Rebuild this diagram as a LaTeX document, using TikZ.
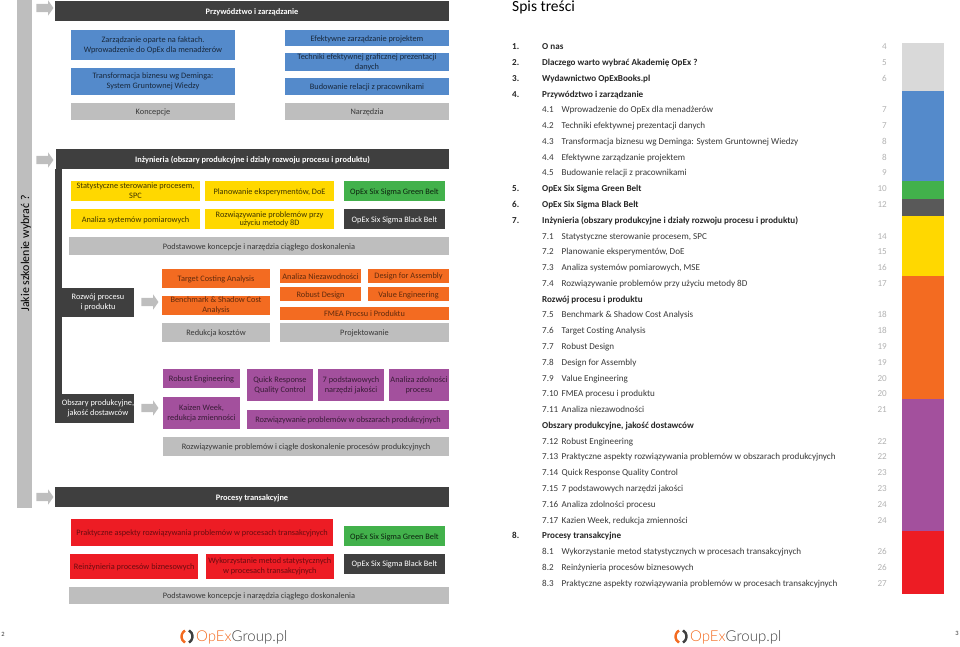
\documentclass[tikz,border=0pt]{standalone}
\usepackage{fontspec}
\setmainfont{Carlito}
\newfontfamily\logofont[UprightFont=* Light]{Lato}
\usetikzlibrary{shapes.arrows}
\definecolor{darkbox}{HTML}{3F3F3F}
\definecolor{greybox}{HTML}{BEBEBE}
\definecolor{bluebox}{HTML}{548ACB}
\definecolor{yellowbox}{HTML}{FFD800}
\definecolor{greenbox}{HTML}{42B14B}
\definecolor{orangebox}{HTML}{F36B21}
\definecolor{purplebox}{HTML}{A3509D}
\definecolor{redbox}{HTML}{ED1C24}
\definecolor{maintext}{HTML}{383838}
\tikzset{
    cell/.style={rectangle, inner sep=0pt, align=center, text=maintext, font=\fontsize{8.3}{10}\selectfont,
        execute at begin node={\rule{0pt}{8pt}}},
    header/.style={cell, fill=darkbox, text=white, font=\fontsize{8.35}{10}\selectfont\bfseries},
    side/.style={cell, fill=darkbox, text=white},
    blackbelt/.style={cell, fill=darkbox, text=white},
    greenbelt/.style={cell, fill=greenbox, text=black!80!greenbox},
    grey/.style={cell, fill=greybox},
    blue/.style={cell, fill=bluebox, text=black!70!bluebox},
    yellow/.style={cell, fill=yellowbox, text=black!75!yellowbox},
    orange/.style={cell, fill=orangebox, text=black!60!orangebox},
    purple/.style={cell, fill=purplebox, text=black!65!purplebox},
    red/.style={cell, fill=redbox, text=black!55!redbox},
    pointer/.style={single arrow, fill=greybox, inner sep=4pt, minimum height=17pt, minimum width=15pt,
        single arrow head extend=3.5pt, single arrow tip angle=110},
    tochead/.style={anchor=west, inner sep=0pt, text height=6pt, text depth=2pt, text=black!85, font=\fontsize{9.1}{10}\selectfont\bfseries},
    tocitem/.style={anchor=west, inner sep=0pt, text height=6pt, text depth=2pt, text=maintext, font=\fontsize{9.1}{10}\selectfont},
    tocpage/.style={anchor=east, inner sep=0pt, text height=6pt, text depth=2pt, text=black!30, font=\fontsize{9.1}{10}\selectfont},
    strip/.style={rectangle, inner sep=0pt, minimum width=42pt},
    pagenum/.style={inner sep=0pt, text=maintext, font=\fontsize{6.5}{8}\selectfont},
    logotext/.style={anchor=west, inner sep=0pt, font=\fontsize{15}{18}\logofont}
}
\begin{document}
\begin{tikzpicture}[x=1pt,y=-1pt]
    \useasboundingbox (0,0) rectangle (960,646);

    % left page, bars and pointers
    \node[grey, minimum width=15pt, minimum height=508pt] (leftbar) at (24.5,254) {};
    \node[cell, rotate=90, font=\fontsize{11.9}{13}\selectfont, text=black] (question) at (26,253.5) {Jakie szkolenie wybrać ?};
    \node[side, minimum width=7pt, minimum height=254pt] (spine) at (58.5,296) {};
    \node[pointer] (arrowlead) at (43.5,8) {};
    \node[pointer] (arrowengin) at (43.5,160) {};
    \node[pointer] (arrowtrans) at (43.5,497) {};
    \node[pointer] (arrowdev) at (148.5,302) {};
    \node[pointer] (arrowprod) at (148.5,408) {};

    % leadership
    \node[header, minimum width=394pt, minimum height=20pt] (lead) at (252,11) {Przywództwo i zarządzanie};
    \node[blue, minimum width=164pt, minimum height=30pt] (facts) at (153,45) {Zarządzanie oparte na faktach.\\Wprowadzenie do OpEx dla menadżerów};
    \node[blue, minimum width=164pt, minimum height=27pt] (deming) at (153,81.5) {Transformacja biznesu wg Deminga:\\System Gruntownej Wiedzy};
    \node[grey, minimum width=164pt, minimum height=17pt] (concepts) at (153,111.5) {Koncepcje};
    \node[blue, minimum width=164pt, minimum height=16pt] (project) at (367,38) {Efektywne zarządzanie projektem};
    \node[blue, minimum width=164pt, minimum height=16pt] (charts) at (367,62) {Techniki efektywnej graficznej prezentacji\\danych};
    \node[blue, minimum width=164pt, minimum height=17pt] (people) at (367,86.5) {Budowanie relacji z pracownikami};
    \node[grey, minimum width=164pt, minimum height=17pt] (tools) at (367,111.5) {Narzędzia};

    % engineering
    \node[header, minimum width=393pt, minimum height=20pt] (engin) at (252.5,159) {Inżynieria (obszary produkcyjne i działy rozwoju procesu i produktu)};
    \node[yellow, minimum width=129pt, minimum height=20pt] (spc) at (135.5,191) {Statystyczne sterowanie procesem,\\SPC};
    \node[yellow, minimum width=129pt, minimum height=20pt] (doe) at (269.5,191) {Planowanie eksperymentów, DoE};
    \node[greenbelt, minimum width=101pt, minimum height=20pt] (green) at (394.5,191) {OpEx Six Sigma Green Belt};
    \node[yellow, minimum width=129pt, minimum height=20pt] (msa) at (135.5,219) {Analiza systemów pomiarowych};
    \node[yellow, minimum width=129pt, minimum height=20pt, font=\fontsize{8.3}{7}\selectfont] (eightd) at (269.5,219) {Rozwiązywanie problemów przy\\użyciu metody 8D};
    \node[blackbelt, minimum width=101pt, minimum height=20pt] (black) at (394.5,219) {OpEx Six Sigma Black Belt};
    \node[grey, minimum width=380pt, minimum height=18pt] (basics) at (259,246) {Podstawowe koncepcje i narzędzia ciągłego doskonalenia};

    % process and product development
    \node[side, minimum width=72pt, minimum height=29pt] (dev) at (98,302.5) {Rozwój procesu\\i produktu};
    \node[orange, minimum width=108pt, minimum height=19pt] (target) at (216,278.5) {Target Costing Analysis};
    \node[orange, minimum width=108pt, minimum height=19pt] (bench) at (216,305.5) {Benchmark \& Shadow Cost\\Analysis};
    \node[grey, minimum width=108pt, minimum height=19pt] (costs) at (216,332.5) {Redukcja kosztów};
    \node[orange, minimum width=81pt, minimum height=14pt] (reliab) at (320.5,275.5) {Analiza Niezawodności};
    \node[orange, minimum width=81pt, minimum height=14pt] (assembly) at (408.5,275.5) {Design for Assembly};
    \node[orange, minimum width=81pt, minimum height=14pt] (robust) at (320.5,294) {Robust Design};
    \node[orange, minimum width=81pt, minimum height=14pt] (value) at (408.5,294) {Value Engineering};
    \node[orange, minimum width=169pt, minimum height=13pt] (fmea) at (364.5,313) {FMEA Procsu i Produktu};
    \node[grey, minimum width=169pt, minimum height=19pt] (design) at (364.5,332.5) {Projektowanie};

    % production areas
    \node[side, minimum width=72pt, minimum height=29pt] (prod) at (98,408.5) {Obszary produkcyjne,\\jakość dostawców};
    \node[purple, minimum width=77pt, minimum height=19pt] (robeng) at (201.5,378.5) {Robust Engineering};
    \node[purple, minimum width=77pt, minimum height=32pt] (kaizen) at (201.5,413) {Kaizen Week,\\redukcja zmienności};
    \node[purple, minimum width=66pt, minimum height=32pt] (qrqc) at (280,385) {Quick Response\\Quality Control};
    \node[purple, minimum width=66pt, minimum height=32pt] (seven) at (351,385) {7 podstawowych\\narzędzi jakości};
    \node[purple, minimum width=60pt, minimum height=32pt] (capab) at (419,385) {Analiza zdolności\\procesu};
    \node[purple, minimum width=202pt, minimum height=19pt] (areas) at (348,419) {Rozwiązywanie problemów w obszarach produkcyjnych};
    \node[grey, minimum width=286pt, minimum height=19pt] (improve) at (306,446.5) {Rozwiązywanie problemów i ciągłe doskonalenie procesów produkcyjnych};

    % transactional processes
    \node[header, minimum width=394pt, minimum height=20pt] (trans) at (252,497) {Procesy transakcyjne};
    \node[red, minimum width=262pt, minimum height=27pt] (practice) at (202,532.5) {Praktyczne aspekty rozwiązywania problemów w procesach transakcyjnych};
    \node[red, minimum width=127.5pt, minimum height=25pt] (reeng) at (134.2,566) {Reinżynieria procesów biznesowych};
    \node[red, minimum width=127.5pt, minimum height=25pt] (stats) at (269.8,566) {Wykorzystanie metod statystycznych\\w procesach transakcyjnych};
    \node[greenbelt, minimum width=101pt, minimum height=20pt] (green2) at (394.5,536) {OpEx Six Sigma Green Belt};
    \node[blackbelt, minimum width=101pt, minimum height=20pt] (black2) at (394.5,563.5) {OpEx Six Sigma Black Belt};
    \node[grey, minimum width=380pt, minimum height=17pt] (basics2) at (259,595) {Podstawowe koncepcje i narzędzia ciągłego doskonalenia};

    % right page
    \node[anchor=west, inner sep=0pt, text=black, font=\fontsize{15.5}{16}\selectfont] (title) at (512,7.5) {Spis treści};

    \foreach \i/\num/\txt in {0/1./O nas, 1/2./Dlaczego warto wybrać Akademię OpEx ?, 2/3./Wydawnictwo OpExBooks.pl,
        3/4./Przywództwo i zarządzanie, 9/5./OpEx Six Sigma Green Belt, 10/6./OpEx Six Sigma Black Belt,
        11/7./Inżynieria (obszary produkcyjne i działy rozwoju procesu i produktu), 31/8./Procesy transakcyjne} {
        \node[tochead] (num\i) at (512,{47.7+15.78*\i}) {\num};
        \node[tochead] (head\i) at (542,{47.7+15.78*\i}) {\txt};
    }
    \node[tochead] (head16) at (542,{47.7+15.78*16}) {Rozwój procesu i produktu};
    \node[tochead] (head24) at (542,{47.7+15.78*24}) {Obszary produkcyjne, jakość dostawców};

    \foreach \i/\num/\txt in {4/4.1/Wprowadzenie do OpEx dla menadżerów, 5/4.2/Techniki efektywnej prezentacji danych,
        6/4.3/Transformacja biznesu wg Deminga: System Gruntownej Wiedzy, 7/4.4/Efektywne zarządzanie projektem,
        8/4.5/Budowanie relacji z pracownikami, 12/7.1/{Statystyczne sterowanie procesem, SPC},
        13/7.2/{Planowanie eksperymentów, DoE}, 14/7.3/{Analiza systemów pomiarowych, MSE},
        15/7.4/Rozwiązywanie problemów przy użyciu metody 8D, 17/7.5/Benchmark \& Shadow Cost Analysis,
        18/7.6/Target Costing Analysis, 19/7.7/Robust Design, 20/7.8/Design for Assembly, 21/7.9/Value Engineering,
        22/7.10/FMEA procesu i produktu, 23/7.11/Analiza niezawodności, 25/7.12/Robust Engineering,
        26/7.13/Praktyczne aspekty rozwiązywania problemów w obszarach produkcyjnych, 27/7.14/Quick Response Quality Control,
        28/7.15/7 podstawowych narzędzi jakości, 29/7.16/Analiza zdolności procesu, 30/7.17/{Kazien Week, redukcja zmienności},
        32/8.1/Wykorzystanie metod statystycznych w procesach transakcyjnych, 33/8.2/Reinżynieria procesów biznesowych,
        34/8.3/Praktyczne aspekty rozwiązywania problemów w procesach transakcyjnych} {
        \node[tocitem] (num\i) at (542,{47.7+15.78*\i}) {\num};
        \node[tocitem] (item\i) at (561.5,{47.7+15.78*\i}) {\txt};
    }

    \foreach \i/\pg in {0/4, 1/5, 2/6, 4/7, 5/7, 6/8, 7/8, 8/9, 9/10, 10/12, 12/14, 13/15, 14/16, 15/17, 17/18, 18/18, 19/19,
        20/19, 21/20, 22/20, 23/21, 25/22, 26/22, 27/23, 28/23, 29/24, 30/24, 32/26, 33/26, 34/27} {
        \node[tocpage] (page\i) at (887,{47.7+15.78*\i}) {\pg};
    }

    % colour strip
    \node[strip, fill=black!15, minimum height=48pt] (stripgrey) at (923,67) {};
    \node[strip, fill=bluebox, minimum height=90pt] (stripblue) at (923,136) {};
    \node[strip, fill=greenbox, minimum height=18pt] (stripgreen) at (923,190) {};
    \node[strip, fill=black!65, minimum height=17pt] (stripdark) at (923,207.5) {};
    \node[strip, fill=yellowbox, minimum height=60pt] (stripyellow) at (923,246) {};
    \node[strip, fill=orangebox, minimum height=123pt] (striporange) at (923,337.5) {};
    \node[strip, fill=purplebox, minimum height=132pt] (strippurple) at (923,465) {};
    \node[strip, fill=redbox, minimum height=63pt] (stripred) at (923,562.5) {};

    % footer
    \node[pagenum] (pageleft) at (3,634) {2};
    \node[pagenum] (pageright) at (957,633) {3};
    \foreach \lx/\side in {187/left, 681/right} {
        \draw[orangebox, line width=2.4pt] (\lx-2,630.5) arc (120:240:7pt);
        \draw[darkbox, line width=2.4pt] (\lx+2,642.5) arc (-60:60:7pt);
        \node[logotext] (logo\side) at (\lx+9,637) {\textcolor{orangebox}{OpEx}\textcolor{black!75}{Group.pl}};
    }
\end{tikzpicture}
\end{document}
